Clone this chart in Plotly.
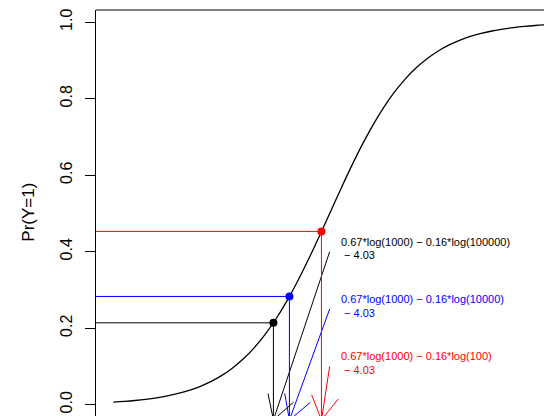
import math
import plotly.graph_objects as go

# ---------------- data ----------------
curve_x = [-5.00, -4.75, -4.50, -4.25, -4.00, -3.75, -3.50, -3.25, -3.00, -2.75,
           -2.50, -2.25, -2.00, -1.75, -1.50, -1.25, -1.00, -0.75, -0.50, -0.25,
           0.00, 0.25, 0.50, 0.75, 1.00, 1.25, 1.50, 1.75, 2.00, 2.25,
           2.50, 2.75, 3.00, 3.25, 3.50, 3.75, 4.00, 4.25, 4.50, 4.75, 5.00]
curve_y = [0.00669, 0.00858, 0.01099, 0.01406, 0.01799, 0.02298, 0.02931, 0.03733, 0.04743, 0.06008,
           0.07586, 0.09534, 0.11920, 0.14805, 0.18243, 0.22270, 0.26894, 0.32082, 0.37754, 0.43782,
           0.50000, 0.56218, 0.62246, 0.67918, 0.73106, 0.77730, 0.81757, 0.85195, 0.88080, 0.90466,
           0.92414, 0.93992, 0.95257, 0.96267, 0.97069, 0.97702, 0.98201, 0.98594, 0.98901, 0.99142, 0.99331]

point_eta = [-1.30, -0.93, -0.19]
point_p = [0.214, 0.283, 0.453]
point_colors = ["#000000", "#0000FF", "#FF0000"]
label_line1 = [
    "0.67*log(1000) \u2212 0.16*log(100000)",
    "0.67*log(1000) \u2212 0.16*log(10000)",
    "0.67*log(1000) \u2212 0.16*log(100)",
]
label_line2 = ["\u00a0\u2212 4.03", "\u00a0\u2212 4.03", "\u00a0\u2212 4.03"]
label_x = [0.0, 0.0, 0.0]
label_y = [0.40, 0.25, 0.10]
arrow_bottom = -0.04
x_left = -5.4

y_tickvals = [0.0, 0.2, 0.4, 0.6, 0.8, 1.0]
y_ticktext = ["0.0", "0.2", "0.4", "0.6", "0.8", "1.0"]
y_title = "Pr(Y=1)"

# ---------------- layout geometry ----------------
W, H = 552, 416
ML, MR, MT, MB = 88, 0, 2, 0
x_range = [-5.4, 5.323]
y_range = [-0.0505, 1.0319]
sx = (W - ML - MR) / (x_range[1] - x_range[0])
sy = (H - MT - MB) / (y_range[1] - y_range[0])
FONT = "Liberation Sans, Arial, Helvetica, sans-serif"


def arrow_head(x0, y0, x1, y1, L=27.0, ang=30.0):
    dxp = (x1 - x0) * sx
    dyp = (y1 - y0) * sy
    n = math.hypot(dxp, dyp)
    bx, by = -dxp / n, -dyp / n
    xs, ys = [], []
    for s in (1, -1):
        a = math.radians(ang) * s
        rx = bx * math.cos(a) - by * math.sin(a)
        ry = bx * math.sin(a) + by * math.cos(a)
        xs.append(x1 + rx * L / sx)
        ys.append(y1 + ry * L / sy)
    return [xs[0], x1, xs[1]], [ys[0], y1, ys[1]]


fig = go.Figure()

# logistic curve
fig.add_trace(go.Scatter(x=curve_x, y=curve_y, mode="lines", line=dict(color="black", width=1.3, shape="spline"),
                         hoverinfo="skip", showlegend=False))

for eta, p, col, lx, ly in zip(point_eta, point_p, point_colors, label_x, label_y):
    # horizontal and vertical segments
    fig.add_trace(go.Scatter(x=[x_left, eta, None, eta, eta], y=[p, p, None, p, arrow_bottom],
                             mode="lines", line=dict(color=col, width=1), hoverinfo="skip", showlegend=False))
    # diagonal arrow from label to axis
    hx, hy = arrow_head(lx, ly, eta, arrow_bottom)
    fig.add_trace(go.Scatter(x=[lx, eta, None] + hx, y=[ly, arrow_bottom, None] + hy,
                             mode="lines", line=dict(color=col, width=1), hoverinfo="skip", showlegend=False))

# points
fig.add_trace(go.Scatter(x=point_eta, y=point_p, mode="markers",
                         marker=dict(color=point_colors, size=8, line=dict(width=0)),
                         hoverinfo="skip", showlegend=False))

for t1, t2, col, lx, ly in zip(label_line1, label_line2, point_colors, label_x, label_y):
    fig.add_annotation(x=lx, y=ly, xref="x", yref="y", text=t1, showarrow=False,
                       xanchor="left", yanchor="middle", align="left", xshift=9, yshift=10,
                       font=dict(family=FONT, size=11, color=col))
    fig.add_annotation(x=lx, y=ly, xref="x", yref="y", text=t2, showarrow=False,
                       xanchor="left", yanchor="middle", align="left", xshift=9, yshift=-3.5,
                       font=dict(family=FONT, size=11, color=col))

fig.add_annotation(x=-0.146, y=0.511, xref="paper", yref="paper", text=y_title, showarrow=False,
                   textangle=-90, xanchor="center", yanchor="middle",
                   font=dict(family=FONT, size=17, color="black"))

# top border of the plot box
fig.add_shape(type="line", xref="paper", yref="paper", x0=0, x1=1, y0=1, y1=1,
              line=dict(color="black", width=1))

fig.update_layout(
    width=W, height=H,
    margin=dict(l=ML, r=MR, t=MT, b=MB, pad=0),
    paper_bgcolor="white", plot_bgcolor="white",
    showlegend=False,
    xaxis=dict(range=x_range, visible=False, showgrid=False, zeroline=False),
    yaxis=dict(range=y_range, showgrid=False, zeroline=False, showline=True, linecolor="black", linewidth=1,
               ticks="outside", ticklen=10, tickwidth=1, tickcolor="black",
               tickvals=y_tickvals, ticktext=y_ticktext, tickangle=-90, ticklabelstandoff=7,
               tickfont=dict(family=FONT, size=16, color="black")),
)

fig.write_html("out.html")
